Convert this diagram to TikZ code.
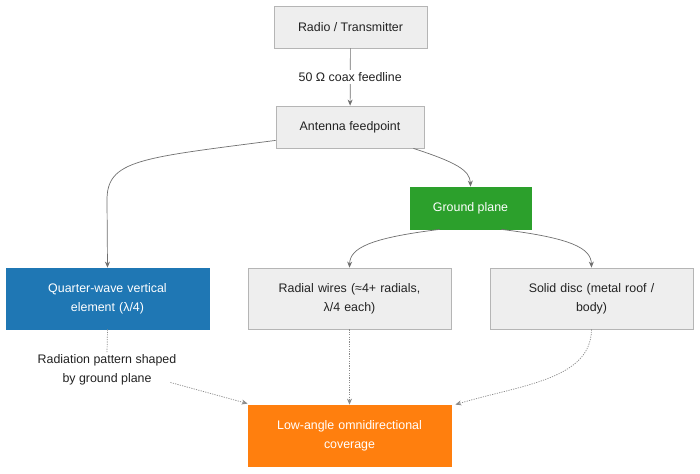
\documentclass[tikz,border=0pt]{standalone}
\usepackage{fontspec}
\setmainfont{Liberation Sans}
\usetikzlibrary{arrows.meta,calc}
\definecolor{gbox}{HTML}{EEEEEE}
\definecolor{gline}{HTML}{B5B5B5}
\definecolor{eline}{HTML}{707070}
\definecolor{dline}{HTML}{8A8A8A}
\definecolor{cblue}{HTML}{1F77B4}
\definecolor{cgreen}{HTML}{2CA02C}
\definecolor{corange}{HTML}{FF7F0E}
\definecolor{txt}{HTML}{222222}
\tikzset{
  box/.style={draw=gline, line width=0.8pt, fill=gbox, text=txt, minimum height=42pt, align=center, inner sep=2pt, font=\fontsize{12.4}{19}\selectfont},
  wbox/.style={box, minimum height=61pt, text width=196pt, minimum width=203pt},
  filled/.style={draw=#1, fill=#1, text=white},
  edge/.style={draw=eline, line width=0.7pt, -{Stealth[length=6pt,width=5pt]}},
  dedge/.style={edge, draw=dline, dash pattern=on 1.2pt off 1.2pt},
  lbl/.style={fill=white, text=txt, align=center, inner sep=2pt, font=\fontsize{12.4}{19}\selectfont}
}
\begin{document}
\begin{tikzpicture}[x=1pt,y=-1pt]
\useasboundingbox (0,0) rectangle (700,473);
\fill[white] (0,0) rectangle (700,473);
\node[box, minimum width=153pt] (radio) at (350.5,27) {Radio / Transmitter};
\node[box, minimum width=148pt] (fp) at (350,127) {Antenna feedpoint};
\node[box, filled=cgreen, minimum width=121pt] (gp) at (470.5,208) {Ground plane};
\node[wbox, filled=cblue] (qw) at (107.5,298.5) {Quarter-wave vertical\\element (λ/4)};
\node[wbox] (rw) at (349.5,298.5) {Radial wires (≈4+ radials,\\λ/4 each)};
\node[wbox] (sd) at (591.5,298.5) {Solid disc (metal roof /\\body)};
\node[wbox, filled=corange] (low) at (349.5,435.5) {Low-angle omnidirectional\\coverage};
\node[lbl] (rp) at (107,370) {Radiation pattern shaped\\by ground plane};

\draw[edge] (radio) -- node[lbl] {50 Ω coax feedline} (fp);
\draw[edge] ($(fp.south west)+(0,-8)$) .. controls (140,158) and (107,160) .. (107,200) -- (qw.north);
\draw[edge] ($(fp.south east)+(-11,0)$) .. controls (455,162) and (470,170) .. (gp.north);
\draw[edge] ($(gp.south west)+(30,0)$) .. controls (370,238) and (350,248) .. (rw.north);
\draw[edge] ($(gp.south east)+(-30,0)$) .. controls (571,238) and (591,248) .. (sd.north);
\draw[dedge, -] (qw.south) -- (rp.north);
\draw[dedge] ($(rp.south east)+(-8,-5)$) -- ($(low.north west)+(0,-1)$);
\draw[dedge] (rw.south) -- (low.north);
\draw[dedge] (sd.south) .. controls (591,380) and (520,385) .. ($(low.north east)+(4,0)$);
\end{tikzpicture}
\end{document}
